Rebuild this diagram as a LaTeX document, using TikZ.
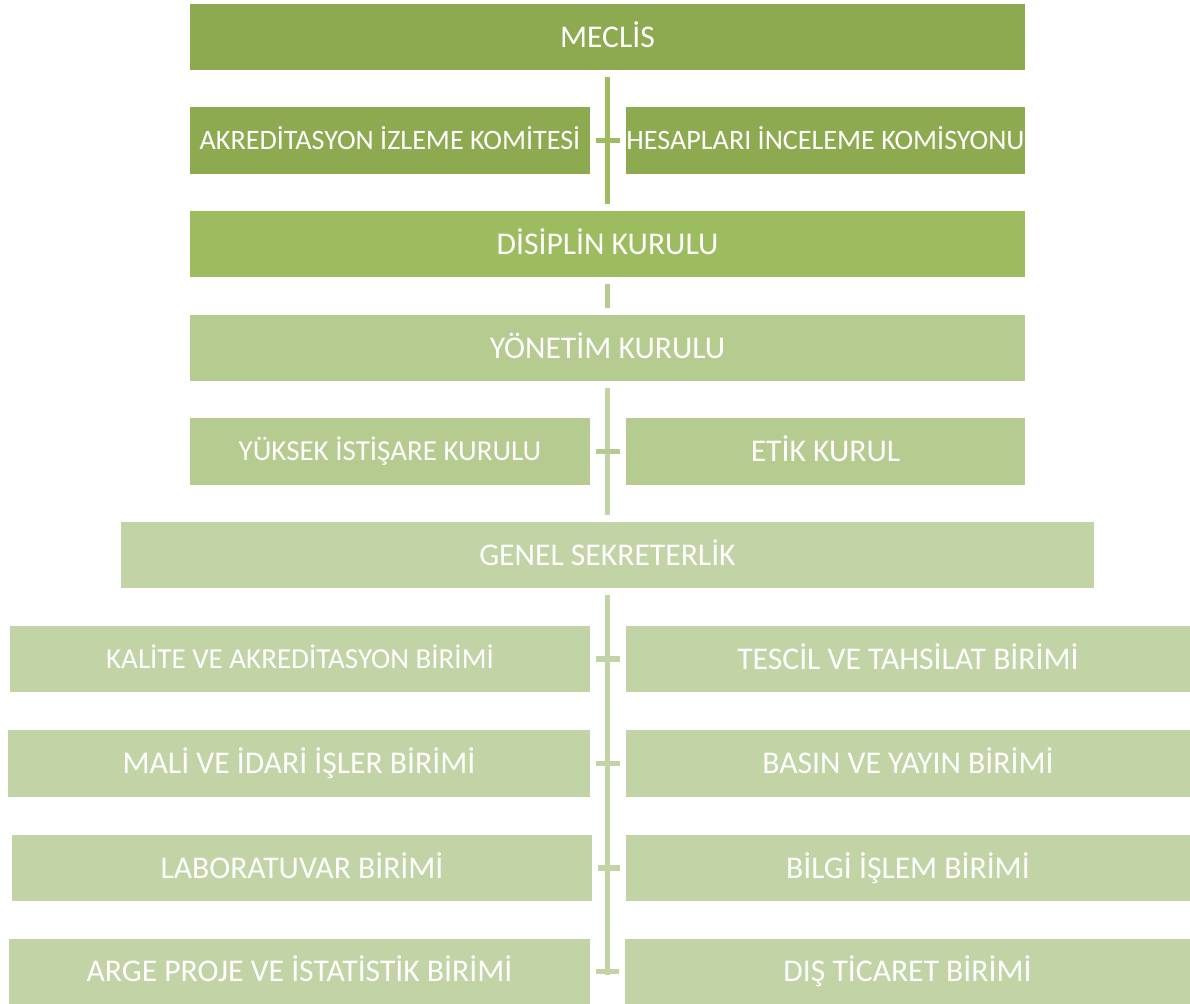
\documentclass[tikz,border=0pt]{standalone}
\usepackage{fontspec}
\setmainfont{Carlito}

\definecolor{greenA}{HTML}{8EAA51}
\definecolor{greenB}{HTML}{9DBB5F}
\definecolor{greenC}{HTML}{B5CB90}
\definecolor{greenD}{HTML}{C2D3A5}

\begin{document}
\begin{tikzpicture}[x=0.02cm, y=-0.02cm,
    box/.style={rectangle, text=white, inner sep=0pt, text depth=0pt},
    big/.style={font=\fontsize{18}{20}\selectfont, text height=11.6pt},
    small/.style={font=\fontsize{16.5}{18}\selectfont, text height=10.6pt},
    tight/.style={font=\fontsize{16}{18}\selectfont, text height=10.3pt},
    post/.style={line width=3.4pt, shorten <=0.13cm, shorten >=0.13cm},
    bar/.style={line width=3pt, shorten <=0.11cm, shorten >=0.11cm}]

    \useasboundingbox (0,0) rectangle (1190,1004);

    % draw nodes
    \foreach \n/\x/\y/\w/\h/\c/\s/\t in {
        meclis/607.5/37/835/66/greenA/big/MECLİS,
        akr/390/140.5/400/67/greenA/tight/AKREDİTASYON İZLEME KOMİTESİ,
        hes/825.5/140.5/399/67/greenA/tight/HESAPLARI İNCELEME KOMİSYONU,
        dis/607.5/244/835/66/greenB/big/DİSİPLİN KURULU,
        yon/607.5/348/835/66/greenC/big/YÖNETİM KURULU,
        yuk/390/451.5/400/67/greenC/small/YÜKSEK İSTİŞARE KURULU,
        etik/825.5/451.5/399/67/greenC/big/ETİK KURUL,
        genel/607.5/555/973/66/greenD/big/GENEL SEKRETERLİK,
        kal/300/659/580/66/greenD/small/KALİTE VE AKREDİTASYON BİRİMİ,
        tes/908/659/564/66/greenD/big/TESCİL VE TAHSİLAT BİRİMİ,
        mali/299/763.5/582/67/greenD/big/MALİ VE İDARİ İŞLER BİRİMİ,
        bas/908/763.5/564/67/greenD/big/BASIN VE YAYIN BİRİMİ,
        lab/302/868/580/66/greenD/big/LABORATUVAR BİRİMİ,
        bil/908/868/564/66/greenD/big/BİLGİ İŞLEM BİRİMİ,
        arge/299.5/971.5/581/65/greenD/big/ARGE PROJE VE İSTATİSTİK BİRİMİ,
        dtic/907.5/971.5/565/65/greenD/big/DIŞ TİCARET BİRİMİ}
        \node [box, \s, fill=\c, minimum width=\w*0.02cm, minimum height=\h*0.02cm]
            (\n) at (\x, \y) {\t};

    \coordinate (end) at (607.5, 975);

    % draw edges
    \draw[post, greenB] (meclis) -- (dis);
    \draw[post, greenC] (dis) -- (yon);
    \draw[post, greenD] (yon) -- (genel);
    \draw[post, greenD, shorten >=0pt] (genel) -- (end);

    \foreach \i/\j/\c in {akr/hes/greenB, yuk/etik/greenC, kal/tes/greenD,
                          mali/bas/greenD, lab/bil/greenD, arge/dtic/greenD}
        \draw[bar, \c] (\i.east) -- (\j.west);

\end{tikzpicture}
\end{document}
